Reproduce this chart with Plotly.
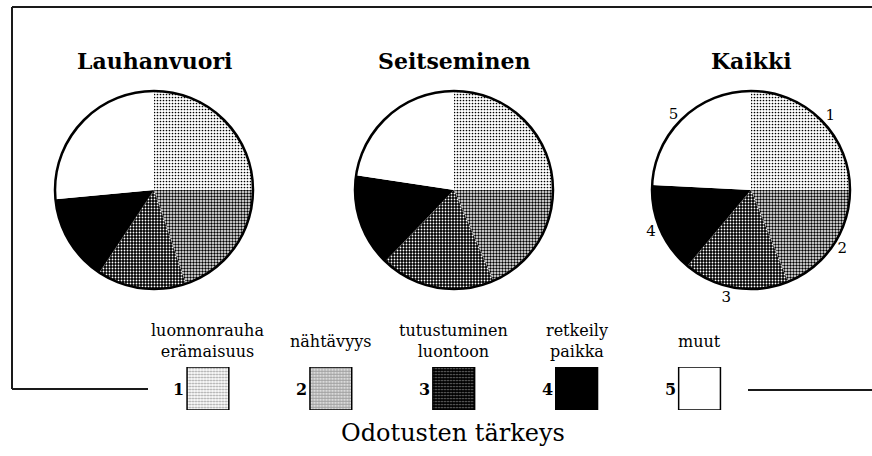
import plotly.graph_objects as go

# data (share of answers, %)
groups = ["Lauhanvuori", "Seitseminen", "Kaikki"]
categories = ["1", "2", "3", "4", "5"]
category_names = ["luonnonrauha<br>erämaisuus", "nähtävyys", "tutustuminen<br>luontoon",
                  "retkeily<br>paikka", "muut"]
lauhanvuori = [25.0, 19.8, 14.5, 14.2, 26.5]
seitseminen = [25.0, 18.5, 18.7, 15.2, 22.6]
kaikki = [25.0, 18.9, 17.2, 14.7, 24.2]
values = [lauhanvuori, seitseminen, kaikki]

W, H = 872, 456
FONT = "DejaVu Serif"


def px(x):
    return x / W


def py(y):
    return 1 - y / H


# fills: dotted light, dotted medium, dotted dark, black, white
pattern = dict(
    shape=[".", ".", ".", "", ""],
    fgcolor=["black", "black", "white", "black", "black"],
    bgcolor=["white", "white", "black", "black", "white"],
    size=[3, 3, 3, 3, 3],
    solidity=[0.25, 0.5, 0.3, 0.5, 0.5],
)
# the swatches render a bit lighter, so give them denser dots
swatch_pattern = dict(pattern, solidity=[0.4, 0.7, 0.25, 0.5, 0.5])
fill_colors = ["white", "white", "black", "black", "white"]

centers = [154, 454, 751]
R = 99

fig = go.Figure()

for i, g in enumerate(groups):
    cx = centers[i]
    dom = dict(x=[px(cx - R), px(cx + R)], y=[py(190 + R), py(190 - R)])
    show_text = g == "Kaikki"
    fig.add_trace(go.Pie(
        labels=categories, values=values[i], sort=False, direction="clockwise",
        rotation=0, domain=dom,
        marker=dict(colors=fill_colors, pattern=pattern, line=dict(width=0)),
        text=categories, textinfo="text" if show_text else "none",
        textposition="outside",
        textfont=dict(family=FONT, size=15, color="black"),
        hoverinfo="label+percent", showlegend=False,
    ))
    # outer ring
    fig.add_trace(go.Pie(
        values=[1], domain=dom, textinfo="none", hoverinfo="skip", sort=False,
        marker=dict(colors=["rgba(0,0,0,0)"], line=dict(color="black", width=2.5)),
        showlegend=False,
    ))
    fig.add_annotation(x=px(cx), y=py(61), xref="paper", yref="paper",
                       text="<b>%s</b>" % g, showarrow=False,
                       xanchor="center", yanchor="middle",
                       font=dict(family=FONT, size=22, color="black"))

# legend swatches as bars on a hidden axis
fig.add_trace(go.Bar(
    x=categories, y=[1] * 5, width=0.34, xaxis="x", yaxis="y",
    marker=dict(color=fill_colors, pattern=swatch_pattern,
                line=dict(color="black", width=1.5)),
    hoverinfo="skip", showlegend=False,
))

for i, (c, name) in enumerate(zip(categories, category_names)):
    fig.add_annotation(x=i, xref="x", y=py(341), yref="paper", text=name,
                       showarrow=False, xanchor="center", yanchor="middle",
                       font=dict(family=FONT, size=16, color="black"))
    fig.add_annotation(x=i, xref="x", y=py(389), yref="paper", text="<b>%s</b>" % c,
                       showarrow=False, xanchor="right", xshift=-22, yanchor="middle",
                       font=dict(family=FONT, size=16, color="black"))

fig.add_annotation(x=px(453), y=py(433), xref="paper", yref="paper",
                   text="Odotusten tärkeys", showarrow=False,
                   xanchor="center", yanchor="middle",
                   font=dict(family=FONT, size=24, color="black"))

line = dict(color="#1a1a1a", width=2)
fig.add_shape(type="line", xref="paper", yref="paper", x0=px(12), x1=1, y0=py(7), y1=py(7), line=line)
fig.add_shape(type="line", xref="paper", yref="paper", x0=px(12), x1=px(12), y0=py(7), y1=py(389), line=line)
fig.add_shape(type="line", xref="paper", yref="paper", x0=px(12), x1=px(148), y0=py(389), y1=py(389), line=line)
fig.add_shape(type="line", xref="paper", yref="paper", x0=px(748), x1=1, y0=py(390), y1=py(390), line=line)

fig.update_layout(
    width=W, height=H,
    margin=dict(l=0, r=0, t=0, b=0),
    paper_bgcolor="white", plot_bgcolor="white",
    xaxis=dict(domain=[px(146.5), px(761)], visible=False, type="category",
               range=[-0.5, 4.5]),
    yaxis=dict(domain=[py(410), py(367)], range=[0, 1], visible=False),
    font=dict(family=FONT, color="black"),
)

fig.write_html("out.html", config={"displayModeBar": False},
               post_script="document.body.style.margin='0';")
